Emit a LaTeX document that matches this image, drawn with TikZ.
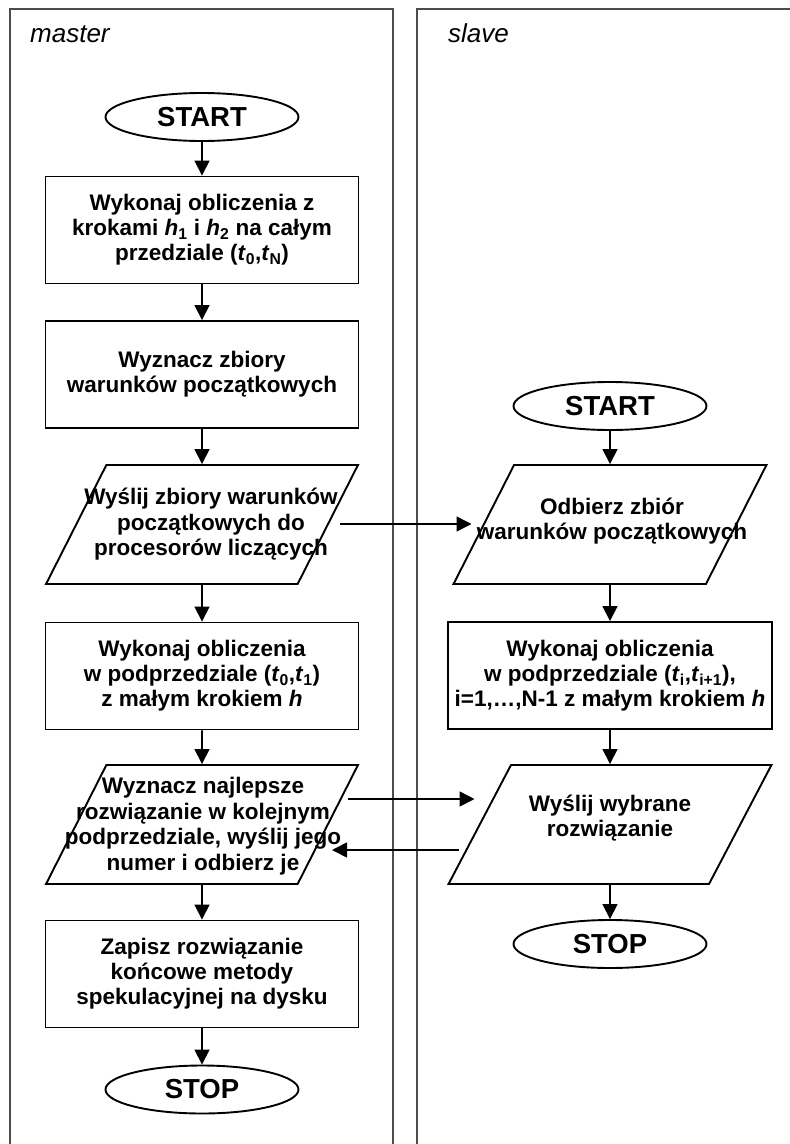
\documentclass[tikz,border=0pt]{standalone}
\usepackage{fontspec}
\setmainfont{Liberation Sans}
\usetikzlibrary{shapes.geometric,arrows.meta,calc}

\begin{document}
\begin{tikzpicture}[x=1pt,y=-1pt,
    lane/.style={line width=1.2pt, black!70},
    lanelabel/.style={anchor=base west, inner sep=0pt, font=\fontsize{26}{30}\selectfont\itshape},
    terminal/.style={draw, line width=1.9pt, ellipse, minimum width=193pt, minimum height=48pt, inner sep=0pt, font=\fontsize{27.5}{30}\selectfont\bfseries},
    process/.style={draw, line width=1.9pt, rectangle, minimum width=313pt, minimum height=107pt, inner sep=0pt, align=center, font=\fontsize{22.5}{25}\selectfont\bfseries},
    io/.style={draw, line width=1.9pt, trapezium, trapezium left angle=73, trapezium right angle=107, trapezium stretches=true, minimum width=312pt, minimum height=119pt, inner sep=0pt},
    iotext/.style={inner sep=0pt, align=center, font=\fontsize{22.5}{25.5}\selectfont\bfseries},
    flow/.style={line width=1.6pt, -{Triangle[length=15pt,width=15pt]}}
]
    \useasboundingbox (0,0) rectangle (790,1144);

    % Lanes
    \draw [lane] (10,1144) -- (10,9) -- (393,9) -- (393,1144);
    \draw [lane] (417,1144) -- (417,9) -- (790,9);
    \node [lanelabel] (mlabel) at (30,42) {master};
    \node [lanelabel] (slabel) at (448,42) {slave};

    % Master
    \node [terminal] (mstart) at (202,117) {START};
    \node [process] (mcalc) at (202,230) {Wykonaj obliczenia z\\krokami \textit{h}\textsubscript{1} i \textit{h}\textsubscript{2} na całym\\przedziale (\textit{t}\textsubscript{0},\textit{t}\textsubscript{N})};
    \node [process] (msets) at (202,374.5) {Wyznacz zbiory\\warunków początkowych};
    \node [io] (msend) at (202,524.5) {\phantom{X}};
    \node [iotext] (msendtxt) at (211,524.5) {Wyślij zbiory warunków\\początkowych do\\procesorów liczących};
    \node [process] (mstep) at (202,676) {Wykonaj obliczenia\\w podprzedziale (\textit{t}\textsubscript{0},\textit{t}\textsubscript{1})\\z małym krokiem \textit{h}};
    \node [io] (mbest) at (202,824.5) {\phantom{X}};
    \node [iotext] (mbesttxt) at (203,826) {Wyznacz najlepsze\\rozwiązanie w kolejnym\\podprzedziale, wyślij jego\\numer i odbierz je};
    \node [process] (msave) at (202,974) {Zapisz rozwiązanie\\końcowe metody\\spekulacyjnej na dysku};
    \node [terminal] (mstop) at (202,1089.5) {STOP};

    % Slave
    \node [terminal] (sstart) at (610,406) {START};
    \node [io, minimum width=313pt] (srecv) at (610,524.5) {\phantom{X}};
    \node [iotext] (srecvtxt) at (612,521) {Odbierz zbiór\\warunków początkowych};
    \node [process, minimum width=324pt] (sstep) at (610,675.5) {Wykonaj obliczenia\\w podprzedziale (\textit{t}\textsubscript{i},\textit{t}\textsubscript{i+1}),\\i=1,…,N-1 z małym krokiem \textit{h}};
    \node [io, minimum width=323pt] (ssend) at (610,824.5) {\phantom{X}};
    \node [iotext] (ssendtxt) at (610,818) {Wyślij wybrane\\rozwiązanie};
    \node [terminal] (sstop) at (610,944) {STOP};

    % Flow
    \draw [flow] (mstart) -- (mcalc);
    \draw [flow] (mcalc) -- (msets);
    \draw [flow] (msets) -- (msend.north);
    \draw [flow] (msend.south) -- (mstep);
    \draw [flow] (mstep) -- (mbest.north);
    \draw [flow] (mbest.south) -- (msave);
    \draw [flow] (msave) -- (mstop);
    \draw [flow] (sstart) -- (srecv.north);
    \draw [flow] (srecv.south) -- (sstep);
    \draw [flow] (sstep) -- (ssend.north);
    \draw [flow] (ssend.south) -- (sstop);

    % Messages
    \draw [flow] ($(msend.center)+(138,-0.5)$) -- ($(srecv.center)+(-138.5,-0.5)$);
    \draw [flow] ($(mbest.center)+(145.6,-25.5)$) -- ($(ssend.center)+(-135.5,-25.5)$);
    \draw [flow] ($(ssend.center)+(-151,25.5)$) -- ($(mbest.center)+(130,25.5)$);
\end{tikzpicture}
\end{document}
